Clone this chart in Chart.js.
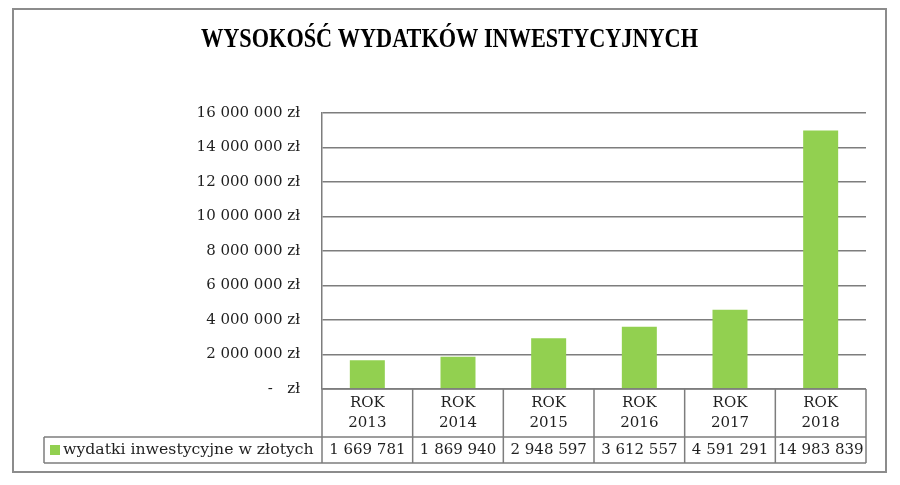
<!DOCTYPE html>
<html>
<head>
<meta charset="utf-8">
<script src="https://cdn.jsdelivr.net/npm/chart.js@4.4.1/dist/chart.umd.min.js"></script>
<style>
  html, body { margin: 0; padding: 0; background: #ffffff; }
  #wrap { width: 900px; height: 485px; }
</style>
</head>
<body>
<div id="wrap"><canvas id="c" width="900" height="485"></canvas></div>
<script>
const chartTitle = 'WYSOKOŚĆ WYDATKÓW INWESTYCYJNYCH';
const categoryPrefix = 'ROK';
const years = ['2013', '2014', '2015', '2016', '2017', '2018'];
const values = [1669781, 1869940, 2948597, 3612557, 4591291, 14983839];
const seriesName = 'wydatki inwestycyjne w złotych';
const yMin = 0;
const yMax = 16000000;
const yStep = 2000000;
const currency = 'zł';

const categories = years.map(y => [categoryPrefix, y]);

function groupDigits(n) {
  return String(n).replace(/\B(?=(\d{3})+(?!\d))/g, ' ');
}

const FONT = '"DejaVu Serif", serif';
const TEXT = '#1f1f1f';
const LINE = '#7d7d7d';
const GREEN = '#92D050';

const decorPlugin = {
  id: 'decor',
  beforeDraw(chart) {
    const ctx = chart.ctx;
    ctx.save();
    ctx.fillStyle = '#ffffff';
    ctx.fillRect(0, 0, chart.width, chart.height);
    ctx.restore();
  },
  afterDraw(chart) {
    const ctx = chart.ctx;
    const xs = chart.scales.x;
    const n = values.length;
    const step = xs.getPixelForValue(1) - xs.getPixelForValue(0);
    const left = xs.getPixelForValue(0) - step / 2;
    const right = xs.getPixelForValue(n - 1) + step / 2;
    const rowTop = xs.top;
    const rowMid = xs.bottom;
    const rowBot = rowMid + 26;
    const legendLeft = 44;

    ctx.save();
    // title
    ctx.fillStyle = '#000000';
    ctx.font = 'bold 27px "Liberation Serif", serif';
    ctx.textBaseline = 'alphabetic';
    ctx.textAlign = 'left';
    const tw = ctx.measureText(chartTitle).width;
    const targetW = 497;
    ctx.translate(201, 47);
    ctx.scale(targetW / tw, 1);
    ctx.fillText(chartTitle, 0, 0);
    ctx.restore();

    ctx.save();
    ctx.strokeStyle = LINE;
    ctx.lineWidth = 1.5;
    ctx.beginPath();
    // horizontal table lines
    ctx.moveTo(left, rowTop); ctx.lineTo(right, rowTop);
    ctx.moveTo(legendLeft, rowMid); ctx.lineTo(right, rowMid);
    ctx.moveTo(legendLeft, rowBot); ctx.lineTo(right, rowBot);
    // vertical lines
    for (let i = 0; i <= n; i++) {
      const px = left + i * step;
      ctx.moveTo(px, rowTop); ctx.lineTo(px, rowBot);
    }
    ctx.moveTo(legendLeft, rowMid); ctx.lineTo(legendLeft, rowBot);
    ctx.stroke();

    // values row
    ctx.fillStyle = TEXT;
    ctx.font = '15px ' + FONT;
    ctx.textAlign = 'center';
    ctx.textBaseline = 'middle';
    const cy = (rowMid + rowBot) / 2;
    for (let i = 0; i < n; i++) {
      ctx.fillText(groupDigits(values[i]), xs.getPixelForValue(i), cy);
    }

    // legend cell
    ctx.fillStyle = GREEN;
    ctx.fillRect(50, cy - 5, 10, 10);
    ctx.fillStyle = TEXT;
    ctx.textAlign = 'left';
    ctx.font = '15.7px ' + FONT;
    ctx.fillText(seriesName, 63, cy);

    // outer border
    ctx.strokeStyle = '#8c8c8c';
    ctx.lineWidth = 2;
    ctx.strokeRect(13, 9, 873, 463);
    ctx.restore();
  }
};

new Chart(document.getElementById('c'), {
  type: 'bar',
  data: {
    labels: categories,
    datasets: [{
      label: seriesName,
      data: values,
      backgroundColor: GREEN,
      borderWidth: 0,
      barPercentage: 0.386,
      categoryPercentage: 1.0
    }]
  },
  options: {
    responsive: false,
    animation: false,
    devicePixelRatio: 1,
    layout: { padding: { top: 113, right: 34, bottom: 48, left: 0 } },
    plugins: {
      legend: { display: false },
      title: { display: false },
      tooltip: { enabled: false }
    },
    scales: {
      x: {
        grid: { display: false, drawTicks: false },
        border: { display: false },
        ticks: {
          color: TEXT,
          font: { family: FONT, size: 15, lineHeight: 1.333 },
          padding: 4,
          maxRotation: 0,
          autoSkip: false
        },
        afterFit(s) { s.height = 48; }
      },
      y: {
        min: yMin,
        max: yMax,
        grid: { color: LINE, lineWidth: 1.5, drawTicks: false },
        border: { display: true, color: LINE, width: 1.5 },
        ticks: {
          stepSize: yStep,
          color: TEXT,
          padding: 22,
          font: { family: FONT, size: 15 },
          callback(v) {
            return v === 0 ? '-   ' + currency : groupDigits(v) + ' ' + currency;
          }
        },
        afterFit(s) { s.width = 322; }
      }
    }
  },
  plugins: [decorPlugin]
});
</script>
</body>
</html>
